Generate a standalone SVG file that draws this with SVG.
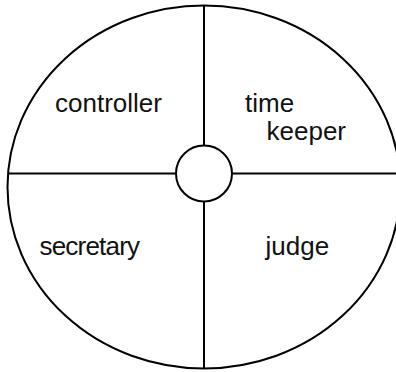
<svg xmlns="http://www.w3.org/2000/svg" width="396" height="372" viewBox="0 0 396 372">
<style>
.s{fill:none;stroke:#000;stroke-width:2}
.t{font-family:"Liberation Sans",Arial,sans-serif;font-size:26px;fill:#111}
</style>
<rect width="396" height="372" fill="#fff"/>
<g id="outer"><ellipse class="s" cx="204" cy="187" rx="196.5" ry="181.5"/></g>
<g id="connectors">
<line class="s" x1="204" y1="5" x2="204" y2="145"/>
<line class="s" x1="204" y1="201" x2="204" y2="369"/>
<line class="s" x1="8" y1="173.5" x2="176" y2="173.5"/>
<line class="s" x1="232" y1="173.5" x2="396" y2="173.5"/>
</g>
<g id="hub"><circle class="s" cx="204" cy="173.5" r="28"/></g>
<g id="controller"><text class="t" x="55" y="111.5">controller</text></g>
<g id="timekeeper"><text class="t" x="245" y="111.5">time</text><text class="t" x="266.5" y="140">keeper</text></g>
<g id="secretary"><text class="t" x="39.5" y="255" textLength="100.5">secretary</text></g>
<g id="judge"><text class="t" x="265.5" y="255">judge</text></g>
</svg>
